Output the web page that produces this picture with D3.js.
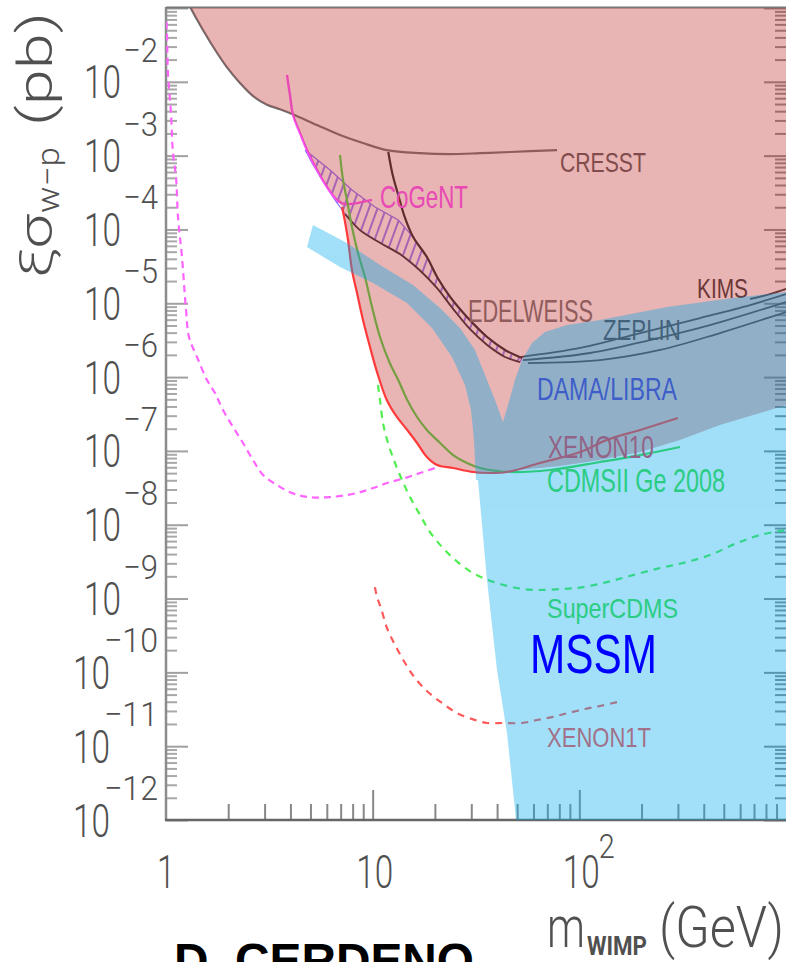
<!DOCTYPE html>
<html>
<head>
<meta charset="utf-8">
<script src="https://cdn.jsdelivr.net/npm/d3@7"></script>
<style>
  html, body { margin: 0; padding: 0; background: #fff; }
  svg { display: block; }
  text { font-family: "Liberation Sans", Arial, sans-serif; }
  .axis-text text { font-family: Roboto, "Liberation Sans", Arial, sans-serif; font-weight: 300; }
</style>
</head>
<body>
<svg id="chart" width="786" height="962"></svg>
<script>
// ---- WIMP mass (GeV) vs. spin-independent cross-section (pb) ----

// Experimental limits and projections: [mass GeV, sigma pb]
const cresst = [[1.22,0.16],[1.31,0.103],[1.51,0.0504],[1.73,0.0270],[1.97,0.0158],[2.28,0.00964],[2.64,0.00640],[3.08,0.00490],[3.56,0.00425],[4.07,0.00367],[5.38,0.00260],[6.95,0.00190],[8.98,0.00148],[11.7,0.00119],[16.9,0.00108],[23.7,0.00105],[33.1,0.00108],[46.2,0.00112],[78.0,0.00119]];
const cogent = [[3.85,1.24e-2],[3.98,6.62e-3],[4.12,3.55e-3],[4.45,2.02e-3],[4.81,1.19e-3],[5.38,6.38e-4],[6.01,3.76e-4],[6.72,2.51e-4],[7.35,2.21e-4],[9.93,2.51e-4]];
const xenon10 = [[7.11,2.01e-4],[7.35,1.26e-4],[7.60,7.20e-5],[7.94,2.82e-5],[8.40,1.38e-5],[8.98,5.93e-6],[9.71,2.55e-6],[10.5,1.17e-6],[11.7,4.90e-7],[13.1,2.88e-7],[14.7,1.92e-7],[16.4,1.28e-7],[18.3,8.26e-8],[20.5,6.44e-8],[24.5,5.86e-8],[30.6,5.18e-8],[37.0,5.02e-8],[44.7,5.18e-8],[64.5,6.86e-8],[101,9.66e-8],[136,1.41e-7],[197,1.92e-7],[300,2.79e-7]];
const cdmsGe2008 = [[6.95,1.02e-3],[7.19,4.68e-4],[7.51,2.51e-4],[7.94,1.08e-4],[8.49,4.80e-5],[9.18,2.27e-5],[9.93,8.89e-6],[10.85,3.49e-6],[12.1,1.55e-6],[13.3,9.12e-7],[14.7,4.90e-7],[16.4,2.88e-7],[18.3,1.92e-7],[21.2,1.28e-7],[24.5,8.79e-8],[28.6,6.86e-8],[33.1,5.86e-8],[46.2,5.18e-8],[72.1,5.51e-8],[126,7.08e-8],[197,8.79e-8],[307,1.13e-7]];
const edelweissUpper = [[11.9,1.12e-3],[12.5,5.46e-4],[13.3,2.93e-4],[14.3,1.47e-4],[15.7,7.90e-5],[18.3,4.23e-5],[20.5,2.27e-5],[23.7,1.22e-5],[28.6,6.52e-6],[35.8,3.49e-6],[43.7,2.33e-6],[52.8,1.81e-6]];
const edelweissLower = [[7.35,1.62e-4],[8.68,9.80e-5],[10.85,6.60e-5],[13.6,4.60e-5],[16.9,2.80e-5],[20.5,1.60e-5],[24.5,8.40e-6],[29.6,4.45e-6],[35.8,2.72e-6],[43.7,1.87e-6],[51.6,1.60e-6]];
const edelweissBand = [[4.71,1.19e-3],[6.22,6.38e-4],[7.94,3.42e-4],[10.26,2.01e-4],[13.3,1.34e-4],[15.7,7.90e-5],[18.3,4.23e-5],[20.5,2.27e-5],[23.7,1.22e-5],[28.6,6.52e-6],[35.8,3.49e-6],[43.7,2.33e-6],[52.8,1.81e-6],[51.6,1.60e-6],[43.7,1.87e-6],[35.8,2.72e-6],[29.6,4.45e-6],[24.5,8.40e-6],[20.5,1.60e-5],[16.9,2.80e-5],[13.6,4.60e-5],[10.85,6.60e-5],[8.68,9.80e-5],[7.35,1.62e-4],[6.57,2.51e-4],[5.69,4.68e-4],[5.09,7.94e-4]];
const kims = [[670,1.14e-5],[837,1.33e-5],[1000,1.56e-5]];
const zeplinA = [[51.6,1.87e-6],[101,2.48e-6],[197,3.95e-6],[384,6.31e-6],[670,9.46e-6],[1000,1.33e-5]];
const zeplinB = [[53.4,1.70e-6],[113,2.12e-6],[220,3.18e-6],[429,5.07e-6],[1000,1.04e-5]];
const zeplinC = [[56.4,1.55e-6],[126,1.70e-6],[246,2.33e-6],[479,3.95e-6],[1000,7.62e-6]];
const lowMassProjection = [[1.005,6.5e-2],[1.011,4.58e-2],[1.022,1.31e-2],[1.057,3.78e-3],[1.081,1.08e-3],[1.118,5.13e-4],[1.143,1.47e-4],[1.195,4.23e-5],[1.250,8.11e-6],[1.292,3.49e-6],[1.413,1.87e-6],[1.579,9.12e-7],[1.726,6.08e-7],[1.887,3.58e-7],[2.110,2.11e-7],[2.358,1.28e-7],[2.636,7.53e-8],[2.947,4.72e-8],[3.444,3.45e-8],[4.071,2.69e-8],[4.866,2.37e-8],[6.218,2.37e-8],[8.400,2.69e-8],[10.04,3.14e-8],[11.73,3.67e-8],[14.34,4.30e-8],[16.94,5.02e-8],[20.02,5.86e-8]];
const superCdms = [[10.6,7.82e-7],[10.85,4.90e-7],[11.22,2.39e-7],[11.86,1.28e-7],[12.83,6.86e-8],[13.87,4.04e-8],[15.16,2.37e-8],[16.94,1.36e-8],[18.94,7.96e-9],[21.65,4.99e-9],[24.47,3.54e-9],[28.93,2.44e-9],[34.19,1.90e-9],[39.96,1.62e-9],[49.92,1.39e-9],[59.7,1.31e-9],[83.4,1.35e-9],[104.2,1.43e-9],[136.1,1.67e-9],[181.8,2.08e-9],[245.7,2.59e-9],[317.4,3.03e-9],[428.8,3.89e-9],[579.2,5.65e-9],[748.6,7.26e-9],[1000,8.5e-9]];
const xenon1t = [[10.26,1.43e-9],[10.49,1.05e-9],[10.97,7.45e-10],[11.73,3.99e-10],[12.83,2.35e-10],[14.34,1.34e-10],[16.02,8.40e-11],[18.52,5.42e-11],[21.65,3.85e-11],[25.59,2.81e-11],[30.24,2.33e-11],[35.75,2.06e-11],[42.72,2.06e-11],[52.8,2.06e-11],[62.4,2.26e-11],[73.8,2.48e-11],[88.1,2.81e-11],[106.5,3.19e-11],[125.9,3.50e-11],[152.1,3.96e-11]];

// Regions
const excludedRegion = [[1.22,0.16],[1.31,0.103],[1.51,0.0504],[1.73,0.0270],[1.97,0.0158],[2.28,0.00964],[2.64,0.00640],[3.08,0.00490],[3.56,0.00425],[4.07,0.00367],[4.45,2.02e-3],[4.81,1.19e-3],[5.38,6.38e-4],[6.01,3.76e-4],[6.72,2.51e-4],[7.11,2.01e-4],[7.35,1.26e-4],[7.60,7.20e-5],[7.94,2.82e-5],[8.40,1.38e-5],[8.98,5.93e-6],[9.71,2.55e-6],[10.5,1.17e-6],[11.7,4.90e-7],[13.1,2.88e-7],[14.7,1.92e-7],[16.4,1.28e-7],[18.3,8.26e-8],[20.5,6.44e-8],[24.5,5.86e-8],[30.6,5.18e-8],[32.3,4.86e-8],[51.6,5.51e-8],[80.6,6.24e-8],[126,7.53e-8],[197,9.66e-8],[307,1.41e-7],[479,2.24e-7],[749,3.26e-7],[1000,4.19e-7],[1300,4.19e-7],[1300,0.3],[1.22,0.3]];
const damaLibra = [[5.14,1.15e-4],[7.51,6.55e-5],[10.85,3.30e-5],[15.67,1.77e-5],[21.18,8.63e-6],[26.46,4.62e-6],[31.27,2.33e-6],[34.96,1.07e-6],[39.08,4.90e-7],[42.72,2.46e-7],[45.17,4.19e-7],[48.82,9.12e-7],[52.8,1.70e-6],[59.0,2.90e-6],[68.2,4.08e-6],[87.2,5.07e-6],[125.9,5.93e-6],[265.6,8.89e-6],[553.9,1.18e-5],[1300,1.55e-5],[1300,7e-8],[125.9,4.04e-8],[31.62,4.04e-8],[30.92,1.41e-7],[29.91,3.58e-7],[27.98,7.82e-7],[24.20,1.87e-6],[19.37,4.62e-6],[14.66,1.01e-5],[10.04,1.88e-5],[6.95,3.10e-5],[4.81,5.78e-5]];
const mssmRegion = [[31.62,5.86e-8],[80.6,7.53e-8],[1300,6e-7],[1300,1e-13],[53.4,1e-13],[49.37,1e-12],[48.29,1.87e-12],[44.67,1.51e-11],[39.96,1.08e-10],[35.75,1.78e-9],[32.33,4.04e-8]];

// Annotations: text and anchor [mass, sigma] (left end of baseline)
const labelNames   = ["CRESST","CoGeNT","EDELWEISS","KIMS","ZEPLIN","DAMA/LIBRA","XENON10","CDMSII Ge 2008","SuperCDMS","MSSM","XENON1T"];
const labelAnchors = [[80.6,6.0e-4],[10.85,1.95e-4],[28.9,5.57e-6],[371,1.18e-5],[130,3.18e-6],[62.4,4.9e-7],[70.5,8.02e-8],[69.8,2.77e-8],[69.8,5.44e-10],[57.7,9.79e-11],[69.8,9.75e-12]];

// Axis ticks
const xTickLabels = ["1","10","10"];
const xTickValues = [1, 10, 100];
const xTickExponents = ["", "", "2"];
const yTickExponents = [-2,-3,-4,-5,-6,-7,-8,-9,-10,-11,-12];

// ---------------------------------------------------------------
const svg = d3.select("#chart");
const W = 786, H = 962;
const x = d3.scaleLog().domain([1, 1000]).range([166, 786]);
const y = d3.scaleLog().domain([1e-12, 1e-1]).range([820, 8]);

svg.append("rect").attr("width", W).attr("height", H).attr("fill", "#fff");

const defs = svg.append("defs");
defs.append("clipPath").attr("id", "plotClip")
  .append("rect").attr("x", 166).attr("y", 8).attr("width", 620).attr("height", 812);
const hatch = defs.append("pattern").attr("id", "hatch")
  .attr("patternUnits", "userSpaceOnUse").attr("width", 8).attr("height", 8)
  .attr("patternTransform", "rotate(20)");
hatch.append("line").attr("x1", 2).attr("y1", -1).attr("x2", 2).attr("y2", 9)
  .attr("stroke", "#8c6cff").attr("stroke-width", 1.8);

// ---- axes (ticks drawn inward on all but the top) ----
const minorY = [], majorY = [];
for (let e = -12; e <= -1; e++) {
  majorY.push(Math.pow(10, e));
  if (e < -1) for (let k = 2; k <= 9; k++) minorY.push(k * Math.pow(10, e));
}
const minorX = [], majorX = [10, 100];
for (let e = 0; e < 3; e++) for (let k = 2; k <= 9; k++) minorX.push(k * Math.pow(10, e));

const axesG = svg.append("g");
function styleAxis(g, color, width) {
  g.select(".domain").remove();
  g.selectAll(".tick line").attr("stroke", color).attr("stroke-width", width);
}
axesG.append("g").attr("transform", "translate(166,0)")
  .call(d3.axisRight(y).tickValues(majorY).tickSize(22).tickFormat(""))
  .call(g => styleAxis(g, "#a0a0a0", 2));
axesG.append("g").attr("transform", "translate(166,0)")
  .call(d3.axisRight(y).tickValues(minorY).tickSize(11).tickFormat(""))
  .call(g => styleAxis(g, "#a8a8a8", 2));
axesG.append("g").attr("transform", "translate(786,0)")
  .call(d3.axisLeft(y).tickValues(majorY).tickSize(22).tickFormat(""))
  .call(g => styleAxis(g, "#8a8a8a", 2));
axesG.append("g").attr("transform", "translate(786,0)")
  .call(d3.axisLeft(y).tickValues(minorY).tickSize(11).tickFormat(""))
  .call(g => styleAxis(g, "#8a8a8a", 2));
axesG.append("g").attr("transform", "translate(0,820)")
  .call(d3.axisTop(x).tickValues(majorX).tickSize(30).tickFormat(""))
  .call(g => styleAxis(g, "#888", 2));
axesG.append("g").attr("transform", "translate(0,820)")
  .call(d3.axisTop(x).tickValues(minorX).tickSize(16).tickFormat(""))
  .call(g => styleAxis(g, "#888", 2));
// frame
axesG.append("line").attr("x1", 166).attr("x2", 166).attr("y1", 7).attr("y2", 821)
  .attr("stroke", "#8c8c8c").attr("stroke-width", 2.5);
axesG.append("line").attr("x1", 165).attr("x2", 786).attr("y1", 820).attr("y2", 820)
  .attr("stroke", "#666").attr("stroke-width", 2.5);
axesG.append("line").attr("x1", 166).attr("x2", 786).attr("y1", 7.5).attr("y2", 7.5)
  .attr("stroke", "#777").attr("stroke-width", 2);

// ---- plot content ----
const line = d3.line().x(d => x(d[0])).y(d => y(d[1])).curve(d3.curveCatmullRom.alpha(0.5));
const area = d3.line().x(d => x(d[0])).y(d => y(d[1])).curve(d3.curveLinearClosed);

function drawLine(g, data, color, width, dash) {
  const p = g.append("path").attr("d", line(data)).attr("fill", "none")
    .attr("stroke", color).attr("stroke-width", width)
    .attr("stroke-linejoin", "round");
  if (dash) p.attr("stroke-dasharray", dash);
  return p;
}

const labelStyle = {
  "CRESST":         { color: "#555",    size: 28, len: 86 },
  "CoGeNT":         { color: "#ff50ff", size: 32, len: 88 },
  "EDELWEISS":      { color: "#707070", size: 31, len: 125 },
  "KIMS":           { color: "#333",    size: 28, len: 51 },
  "ZEPLIN":         { color: "#333",    size: 30, len: 78 },
  "DAMA/LIBRA":     { color: "#2828ff", size: 32, len: 140 },
  "XENON10":        { color: "#e83a4a", size: 31, len: 106 },
  "CDMSII Ge 2008": { color: "#46e046", size: 33, len: 178 },
  "SuperCDMS":      { color: "#46e046", size: 28, len: 131 },
  "MSSM":           { color: "#0000ff", size: 56, len: 127 },
  "XENON1T":        { color: "#ff5050", size: 28, len: 104 }
};
function drawLabel(g, name) {
  const i = labelNames.indexOf(name);
  const st = labelStyle[name];
  g.append("text").text(name)
    .attr("x", x(labelAnchors[i][0])).attr("y", y(labelAnchors[i][1]))
    .attr("font-size", st.size).attr("fill", st.color)
    .attr("textLength", st.len).attr("lengthAdjust", "spacingAndGlyphs");
}

// limits beneath the excluded region shading
const lines1 = svg.append("g").attr("clip-path", "url(#plotClip)");
drawLine(lines1, lowMassProjection, "#ff64ff", 2.2, "7,5");
drawLine(lines1, superCdms, "#50ee50", 2.2, "7,6");
drawLine(lines1, xenon1t, "#ff5a5a", 2.2, "7,6");

lines1.append("path").attr("d", area(edelweissBand)).attr("fill", "url(#hatch)")
  .attr("stroke", "#8c6cff").attr("stroke-width", 1.2);
drawLine(lines1, edelweissUpper, "#222", 2.2);
drawLine(lines1, edelweissLower, "#2a2a2a", 1.8);

drawLine(lines1, cresst, "#6e6e6e", 2.2);
drawLine(lines1, cogent, "#ff50ff", 2.4);
drawLine(lines1, cdmsGe2008, "#46dc46", 2.2);
drawLine(lines1, kims, "#333", 2);
drawLine(lines1, zeplinA, "#333", 1.8);
drawLine(lines1, zeplinB, "#333", 1.8);
drawLine(lines1, zeplinC, "#333", 1.8);

const labels1 = svg.append("g");
["CRESST","CoGeNT","EDELWEISS","KIMS","ZEPLIN","DAMA/LIBRA","CDMSII Ge 2008","SuperCDMS","XENON1T"]
  .forEach(n => drawLabel(labels1, n));

// excluded region (translucent)
svg.append("g").attr("clip-path", "url(#plotClip)")
  .append("path").attr("d", area(excludedRegion))
  .attr("fill", "rgb(196,63,63)").attr("fill-opacity", 0.39);

// XENON10 limit
drawLine(svg.append("g").attr("clip-path", "url(#plotClip)"), xenon10, "#ff3a3a", 2.2);
drawLabel(svg.append("g"), "XENON10");

// DAMA/LIBRA and MSSM regions, composited together
const blue = svg.append("g").attr("clip-path", "url(#plotClip)")
  .append("g").attr("opacity", 0.37);
blue.append("path").attr("d", area(damaLibra)).attr("fill", "rgb(0,171,236)");
blue.append("path").attr("d", area(mssmRegion)).attr("fill", "rgb(0,171,236)");

drawLabel(svg.append("g"), "MSSM");

// ---- tick labels ----
const tickText = svg.append("g").attr("class", "axis-text").attr("fill", "#505050");
yTickExponents.forEach(e => {
  const yy = y(Math.pow(10, e));
  const digits = String(Math.abs(e)).length;
  const expLen = digits === 1 ? 35 : 54;
  const baseEnd = digits === 1 ? 121 : 110;
  tickText.append("text").text("10")
    .attr("x", baseEnd - 37).attr("y", yy + 16.5)
    .attr("font-size", 46).attr("textLength", 37).attr("lengthAdjust", "spacingAndGlyphs");
  tickText.append("text").text("\u2212" + Math.abs(e))
    .attr("x", 158 - expLen).attr("y", yy - 20)
    .attr("font-size", 34).attr("textLength", expLen).attr("lengthAdjust", "spacingAndGlyphs");
});
xTickValues.forEach((v, i) => {
  const label = xTickLabels[i];
  const len = label.length === 1 ? 18 : 37;
  const cx = x(v) + (label.length === 1 ? 0 : 2);
  tickText.append("text").text(label)
    .attr("x", cx - len / 2).attr("y", 888)
    .attr("font-size", 46).attr("textLength", len).attr("lengthAdjust", "spacingAndGlyphs");
  if (xTickExponents[i]) {
    tickText.append("text").text(xTickExponents[i])
      .attr("x", cx + len / 2 - 1).attr("y", 858)
      .attr("font-size", 34).attr("textLength", 16).attr("lengthAdjust", "spacingAndGlyphs");
  }
});

// ---- axis titles ----
const titles = svg.append("g").attr("class", "axis-text").attr("fill", "#505050");
titles.append("text").text("m").attr("x", 547).attr("y", 947)
  .attr("font-size", 58).attr("textLength", 38).attr("lengthAdjust", "spacingAndGlyphs");
titles.append("text").text("WIMP").attr("x", 587).attr("y", 955)
  .attr("font-size", 25).style("font-weight", "bold").attr("textLength", 60).attr("lengthAdjust", "spacingAndGlyphs");
titles.append("text").text("(GeV)").attr("x", 659).attr("y", 947)
  .attr("font-size", 58).attr("textLength", 125).attr("lengthAdjust", "spacingAndGlyphs");

const yTitle = titles.append("g").attr("transform", "translate(52,0) rotate(-90)");
yTitle.append("text").text("\u03BE\u03C3").attr("x", -278).attr("y", 0)
  .attr("font-size", 46).attr("textLength", 64).attr("lengthAdjust", "spacingAndGlyphs");
yTitle.append("text").text("w\u2212p").attr("x", -213).attr("y", 7)
  .attr("font-size", 32).attr("textLength", 66).attr("lengthAdjust", "spacingAndGlyphs");
yTitle.append("text").text("(pb)").attr("x", -126).attr("y", 0)
  .attr("font-size", 48).attr("textLength", 114).attr("lengthAdjust", "spacingAndGlyphs");

svg.append("text").text("D. CERDENO").attr("x", 174).attr("y", 977)
  .attr("font-size", 48).attr("font-weight", "bold").attr("fill", "#000")
  .attr("textLength", 300).attr("lengthAdjust", "spacingAndGlyphs");
</script>
</body>
</html>
